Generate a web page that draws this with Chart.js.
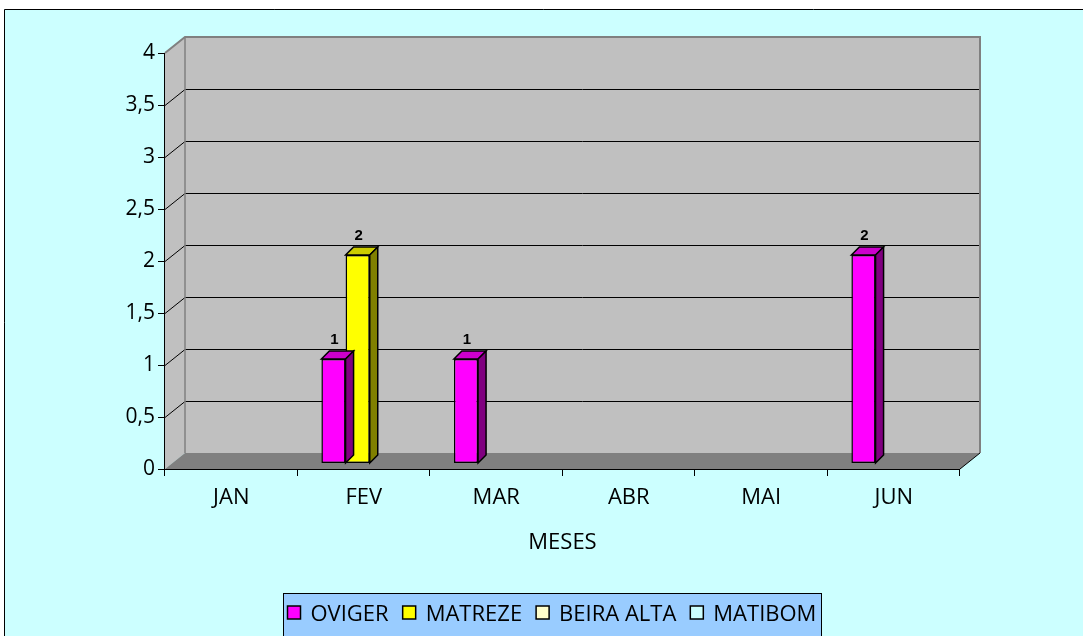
<!DOCTYPE html>
<html lang="pt">
<head>
<meta charset="UTF-8">
<title>Meses</title>
<style>
  html, body { margin: 0; padding: 0; background: #fff; }
  #grafico { display: block; }
</style>
</head>
<body>
<canvas id="grafico" width="1083" height="636"></canvas>
<script src="https://cdn.jsdelivr.net/npm/chart.js"></script>
<script>
// dados
const meses = ['JAN', 'FEV', 'MAR', 'ABR', 'MAI', 'JUN'];
const oviger = [0, 1, 1, 0, 0, 2];
const matreze = [0, 2, 0, 0, 0, 0];
const beiraAlta = [0, 0, 0, 0, 0, 0];
const matibom = [0, 0, 0, 0, 0, 0];
const yTicks = [0, 0.5, 1, 1.5, 2, 2.5, 3, 3.5, 4];

const fonte = '"Open Sans", sans-serif';
const prof = { dx: 20, dy: -16 };     // profundidade das paredes
const desloc = { dx: 6, dy: -6 };     // barras ficam a meio
const lado = 8;                        // espessura 3d da barra

function shade(hex, f) {
    const n = parseInt(hex.slice(1), 16);
    const r = Math.round(((n >> 16) & 255) * f);
    const g = Math.round(((n >> 8) & 255) * f);
    const b = Math.round((n & 255) * f);
    return 'rgb(' + r + ',' + g + ',' + b + ')';
}

function poly(c, pts, fill, stroke, lw) {
    c.beginPath();
    c.moveTo(pts[0][0], pts[0][1]);
    for (let i = 1; i < pts.length; i++) c.lineTo(pts[i][0], pts[i][1]);
    c.closePath();
    if (fill) { c.fillStyle = fill; c.fill(); }
    if (stroke) { c.strokeStyle = stroke; c.lineWidth = lw || 1; c.stroke(); }
}

function path(c, pts, color, lw) {
    c.beginPath();
    c.moveTo(pts[0][0], pts[0][1]);
    for (let i = 1; i < pts.length; i++) c.lineTo(pts[i][0], pts[i][1]);
    c.strokeStyle = color;
    c.lineWidth = lw || 1;
    c.stroke();
}

// fundo, paredes, chao e eixos
const paredes = {
    id: 'paredes',
    beforeDraw(chart) {
        const c = chart.ctx, a = chart.chartArea, y = chart.scales.y, x = chart.scales.x;
        const L = a.left, R = a.right, T = a.top, B = a.bottom, dx = prof.dx, dy = prof.dy;
        c.save();
        c.fillStyle = '#fff';
        c.fillRect(0, 0, chart.width, chart.height);
        c.fillStyle = '#CCFFFF';
        c.fillRect(4, 9, chart.width, chart.height);
        path(c, [[4.5, chart.height], [4.5, 9.5], [chart.width, 9.5]], '#000', 1);

        poly(c, [[L, T], [L + dx, T + dy], [L + dx, B + dy], [L, B]], '#C0C0C0');
        c.fillStyle = '#C0C0C0';
        c.fillRect(L + dx, T + dy, R - L, B - T);
        poly(c, [[L, B], [L + dx, B + dy], [R + dx, B + dy], [R, B]], '#808080');

        yTicks.slice(1, -1).forEach(v => {
            const p = Math.round(y.getPixelForValue(v)) + 0.5;
            path(c, [[L, p], [L + dx, p + dy], [R + dx, p + dy]], '#000', 1);
        });
        // arestas cinzentas
        path(c, [[L, T], [L + dx, T + dy], [R + dx, T + dy], [R + dx, B + dy]], '#808080', 2);
        path(c, [[L + dx, T + dy], [L + dx, B + dy]], '#808080', 1.5);
        path(c, [[R, B], [R + dx, B + dy]], '#000', 1);

        // eixo y
        path(c, [[L - 0.5, T], [L - 0.5, B]], '#000', 1);
        yTicks.forEach(v => {
            const p = Math.round(y.getPixelForValue(v)) + 0.5;
            path(c, [[L - 7, p], [L, p]], '#000', 1);
        });
        // eixo x
        path(c, [[L, B + 0.5], [R, B + 0.5]], '#000', 1);
        const meia = (x.getPixelForValue(1) - x.getPixelForValue(0)) / 2;
        for (let i = 0; i <= meses.length; i++) {
            const px = Math.round(x.getPixelForValue(0) - meia + i * meia * 2) - 0.5;
            path(c, [[px, B], [px, B + 7]], '#000', 1);
        }
        c.restore();
    },
    beforeDatasetDraw(chart) {
        chart.ctx.save();
        chart.ctx.translate(desloc.dx, desloc.dy);
    },
    afterDatasetDraw(chart, args) {
        const c = chart.ctx;
        const ds = chart.data.datasets[args.index];
        args.meta.data.forEach((bar, i) => {
            if (!ds.data[i]) return;
            const p = bar.getProps(['x', 'y', 'base', 'width'], true);
            const l = p.x - p.width / 2, r = p.x + p.width / 2;
            poly(c, [[l, p.y], [l + lado, p.y - lado], [r + lado, p.y - lado], [r, p.y]], shade(ds.backgroundColor, 0.8), '#000', 1.5);
            poly(c, [[r, p.y], [r + lado, p.y - lado], [r + lado, p.base - lado], [r, p.base]], shade(ds.backgroundColor, 0.5), '#000', 1.5);
        });
        c.restore();
    },
    afterDatasetsDraw(chart) {
        const c = chart.ctx;
        c.save();
        c.font = 'bold 15px "Liberation Sans", Arial, sans-serif';
        c.fillStyle = '#000';
        c.textAlign = 'center';
        c.textBaseline = 'middle';
        chart.data.datasets.forEach((ds, k) => {
            chart.getDatasetMeta(k).data.forEach((bar, i) => {
                if (!ds.data[i]) return;
                c.fillText(String(ds.data[i]), bar.x + desloc.dx + 1, bar.y + desloc.dy - 19);
            });
        });
        c.restore();
    },
    afterDraw(chart) {
        // legenda
        const c = chart.ctx;
        c.save();
        c.fillStyle = '#99CCFF';
        c.fillRect(283.5, 593.5, 538, 60);
        c.strokeStyle = '#000';
        c.lineWidth = 1;
        c.strokeRect(283.5, 593.5, 538, 60);
        c.font = '22px ' + fonte;
        c.textBaseline = 'middle';
        const items = chart.data.datasets.map(d => ({ text: d.label, color: d.backgroundColor, w: c.measureText(d.label).width }));
        const total = items.reduce((s, it) => s + 23 + it.w, 0) + 14 * (items.length - 1);
        let px = Math.round(551 - total / 2) + 0.5;
        items.forEach(it => {
            c.fillStyle = it.color;
            c.fillRect(px, 606, 13, 13);
            c.strokeStyle = '#000';
            c.lineWidth = 1.5;
            c.strokeRect(px, 606, 13, 13);
            c.fillStyle = '#000';
            c.fillText(it.text, px + 23, 615);
            px += 23 + it.w + 14;
        });
        c.restore();
    }
};

function serie(label, data, cor) {
    return {
        label: label,
        data: data,
        backgroundColor: cor,
        borderColor: '#000',
        borderWidth: 1.5,
        borderSkipped: false,
        categoryPercentage: 0.73,
        barPercentage: 1,
        clip: false
    };
}

new Chart(document.getElementById('grafico'), {
    type: 'bar',
    data: {
        labels: meses,
        datasets: [
            serie('OVIGER', oviger, '#FF00FF'),
            serie('MATREZE', matreze, '#FFFF00'),
            serie('BEIRA ALTA', beiraAlta, '#FFFFCC'),
            serie('MATIBOM', matibom, '#CCFFFF')
        ]
    },
    options: {
        responsive: false,
        animation: false,
        layout: { padding: { top: 53, right: 123, left: 0, bottom: 0 } },
        plugins: {
            legend: { display: false },
            tooltip: { enabled: false }
        },
        scales: {
            x: {
                grid: { display: false, drawTicks: false },
                border: { display: false },
                ticks: { color: '#000', font: { family: fonte, size: 22 }, padding: 16, maxRotation: 0 },
                title: {
                    display: true, text: 'MESES', color: '#000',
                    font: { family: fonte, size: 22 },
                    padding: { top: 0, bottom: 80 }
                },
                afterFit(s) { s.height = 167; }
            },
            y: {
                min: 0,
                max: 4,
                grid: { display: false, drawTicks: false },
                border: { display: false },
                ticks: {
                    color: '#000', font: { family: fonte, size: 21 }, padding: 10,
                    callback: v => String(v).replace('.', ',')
                },
                afterBuildTicks(s) { s.ticks = yTicks.map(v => ({ value: v })); },
                afterFit(s) { s.width = 165; }
            }
        }
    },
    plugins: [paredes]
});
</script>
</body>
</html>
